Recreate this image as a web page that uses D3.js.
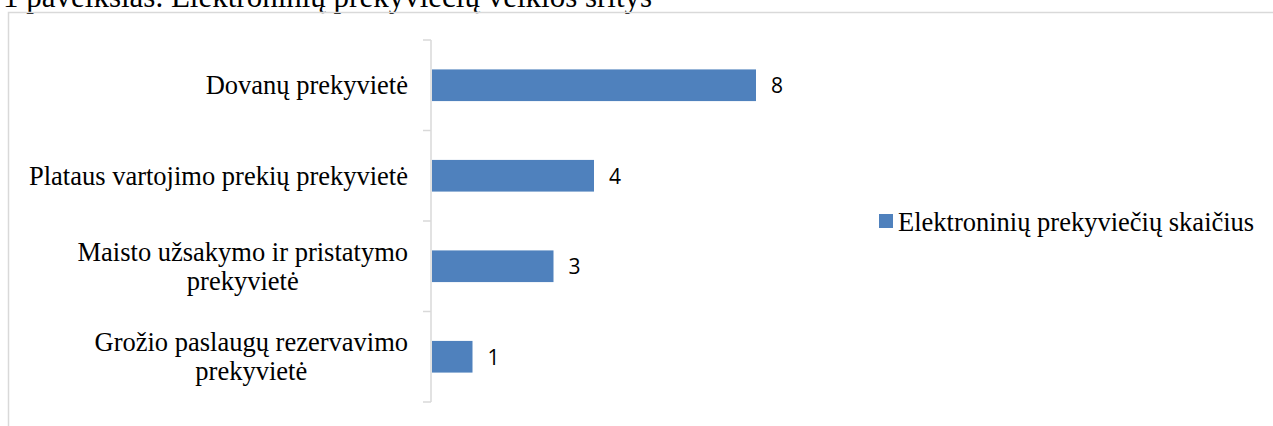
<!DOCTYPE html>
<html>
<head>
<meta charset="utf-8">
<script src="https://cdn.jsdelivr.net/npm/d3@7"></script>
<style>
  html, body { margin: 0; padding: 0; background: #fff; }
  svg { display: block; }
  .serif { font-family: "Liberation Serif", "Tinos", "DejaVu Serif", serif; }
  .sans { font-family: "Open Sans", "Liberation Sans", sans-serif; }
</style>
</head>
<body>
<svg id="chart" width="1273" height="426"></svg>
<script>
// Marketplace categories (top to bottom) and counts
const categories = [
  "Dovanų prekyvietė",
  "Plataus vartojimo prekių prekyvietė",
  "Maisto užsakymo ir pristatymo prekyvietė",
  "Grožio paslaugų rezervavimo prekyvietė"
];
// Line-broken versions of the category labels
const categoryLines = [
  ["Dovanų prekyvietė"],
  ["Plataus vartojimo prekių prekyvietė"],
  ["Maisto užsakymo ir pristatymo", "prekyvietė"],
  ["Grožio paslaugų rezervavimo", "prekyvietė"]
];
const counts = [8, 4, 3, 1];
const seriesName = "Elektroninių prekyviečių skaičius";
const titleText = "1 paveikslas. Elektroninių prekyviečių veiklos sritys";

const svg = d3.select("#chart");
const barColor = "#4f81bd";
const gridGray = "#d9d9d9";

// Figure caption, partly above the visible area
svg.append("text")
  .attr("class", "serif")
  .attr("x", 3).attr("y", 7)
  .attr("font-size", 31)
  .attr("fill", "#000")
  .text(titleText);

// Chart frame
svg.append("rect")
  .attr("x", 8.5).attr("y", 12.5)
  .attr("width", 1300).attr("height", 500)
  .attr("fill", "none").attr("stroke", gridGray).attr("stroke-width", 1.5);

const x = d3.scaleLinear().domain([0, 8]).range([432, 756]);
const y = d3.scaleBand().domain(categories).range([40, 402]).paddingInner(0.65).paddingOuter(0.325);
const yAxisScale = d3.scaleBand().domain(categories).range([40, 402]);

// Vertical category axis with tick marks between the categories
const axisG = svg.append("g");
axisG.append("line")
  .attr("x1", 431).attr("x2", 431).attr("y1", 40).attr("y2", 402)
  .attr("stroke", gridGray).attr("stroke-width", 1.5);
const tickYs = categories.map(c => yAxisScale(c)).concat([yAxisScale.range()[1]]);
axisG.selectAll("line.tick").data(tickYs).join("line")
  .attr("class", "tick")
  .attr("x1", 423).attr("x2", 431)
  .attr("y1", d => d).attr("y2", d => d)
  .attr("stroke", gridGray).attr("stroke-width", 1.5);

// Bars
svg.selectAll("rect.bar").data(counts).join("rect")
  .attr("class", "bar")
  .attr("x", x(0))
  .attr("y", (d, i) => y(categories[i]))
  .attr("width", d => x(d) - x(0))
  .attr("height", y.bandwidth())
  .attr("fill", barColor);

// Value labels
svg.selectAll("text.value").data(counts).join("text")
  .attr("class", "value sans")
  .attr("x", d => x(d) + 15)
  .attr("y", (d, i) => y(categories[i]) + y.bandwidth() / 2 + 8)
  .attr("font-size", 21)
  .attr("fill", "#000")
  .text(d => d);

// Category labels: block right-aligned to the axis, lines centred within the block
const lineH = 29;
const labelRight = 408;
categoryLines.forEach((lines, i) => {
  const cy = yAxisScale(categories[i]) + yAxisScale.bandwidth() / 2;
  const t = svg.append("text")
    .attr("class", "serif")
    .attr("text-anchor", "middle")
    .attr("font-size", 26.5)
    .attr("fill", "#000");
  const spans = lines.map((ln, j) => t.append("tspan")
    .attr("y", cy + 9 + (j - (lines.length - 1) / 2) * lineH)
    .text(ln));
  const maxW = d3.max(spans, s => s.node().getComputedTextLength());
  spans.forEach(s => s.attr("x", labelRight - maxW / 2));
});

// Legend
svg.append("rect")
  .attr("x", 879).attr("y", 214).attr("width", 14).attr("height", 14)
  .attr("fill", barColor);
svg.append("text")
  .attr("class", "serif")
  .attr("x", 898).attr("y", 231)
  .attr("font-size", 26.5)
  .attr("fill", "#000")
  .text(seriesName);
</script>
</body>
</html>
